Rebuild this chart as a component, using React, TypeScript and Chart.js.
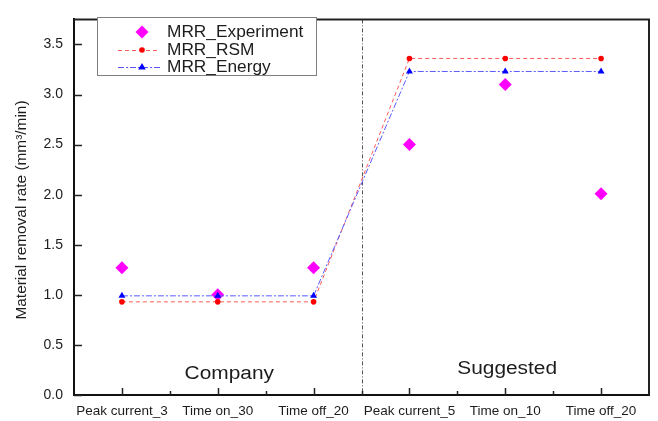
import React, { useEffect, useRef } from "react";
import { Chart, registerables } from "chart.js";

Chart.register(...registerables);

// Process settings on the x axis (company settings, then suggested settings)
const categories = [
  "Peak current_3",
  "Time on_30",
  "Time off_20",
  "Peak current_5",
  "Time on_10",
  "Time off_20",
];

// Material removal rate, mm^3/min
const mrrExperiment = [1.27, 1.0, 1.27, 2.5, 3.1, 2.01];
const mrrRsm = [0.93, 0.93, 0.93, 3.36, 3.36, 3.36];
const mrrEnergy = [0.99, 0.99, 0.99, 3.23, 3.23, 3.23];

const seriesNames = ["MRR_Experiment", "MRR_RSM", "MRR_Energy"];
const groupNames = ["Company", "Suggested"];
const yTitle = "Material removal rate (mm\u00b3/min)";

const FONT = "Arial, 'Liberation Sans', sans-serif";
const INK = "#1c1c1c";

// Text drawn by the plugin is slightly widened, like the axis lettering
function wideText(ctx: CanvasRenderingContext2D, text: string, x: number, y: number, sx: number) {
  ctx.save();
  ctx.translate(x, y);
  ctx.scale(sx, 1);
  ctx.fillText(text, 0, 0);
  ctx.restore();
}

function drawMarker(ctx: CanvasRenderingContext2D, kind: string, x: number, y: number, r: number, color: string) {
  ctx.save();
  ctx.fillStyle = color;
  ctx.beginPath();
  if (kind === "rectRot") {
    ctx.moveTo(x, y - r);
    ctx.lineTo(x + r, y);
    ctx.lineTo(x, y + r);
    ctx.lineTo(x - r, y);
  } else if (kind === "triangle") {
    ctx.moveTo(x, y - r);
    ctx.lineTo(x + r * 0.95, y + r * 0.6);
    ctx.lineTo(x - r * 0.95, y + r * 0.6);
  } else {
    ctx.arc(x, y, r, 0, Math.PI * 2);
  }
  ctx.closePath();
  ctx.fill();
  ctx.restore();
}

const framePlugin = {
  id: "frame",
  beforeDatasetsDraw(chart: any) {
    const { ctx, chartArea: a, scales } = chart;
    const x = scales.x;
    // dividing line between the two groups of settings
    const xd = Math.round(x.getPixelForValue(2.5)) + 0.5;
    ctx.save();
    ctx.strokeStyle = "#555";
    ctx.lineWidth = 1;
    ctx.setLineDash([4, 2, 1, 2]);
    ctx.beginPath();
    ctx.moveTo(xd, a.top);
    ctx.lineTo(xd, a.bottom);
    ctx.stroke();
    ctx.restore();
  },
  afterDraw(chart: any) {
    const { ctx, chartArea: a, scales } = chart;
    const x = scales.x;
    const y = scales.y;
    ctx.save();

    // top and right frame
    ctx.strokeStyle = "#222";
    ctx.lineWidth = 2;
    ctx.beginPath();
    ctx.moveTo(a.left, a.top);
    ctx.lineTo(a.right, a.top);
    ctx.lineTo(a.right, a.bottom);
    ctx.stroke();

    // inward tick marks
    ctx.lineWidth = 1.5;
    ctx.beginPath();
    y.ticks.forEach((t: any) => {
      const py = Math.round(y.getPixelForValue(t.value)) + 0.5;
      ctx.moveTo(a.left, py);
      ctx.lineTo(a.left + 8, py);
    });
    for (let i = 0; i < categories.length; i++) {
      const px = Math.round(x.getPixelForValue(i)) + 0.5;
      ctx.moveTo(px, a.bottom);
      ctx.lineTo(px, a.bottom - 7);
      if (i > 0) {
        const pm = Math.round(x.getPixelForValue(i - 0.5)) + 0.5;
        ctx.moveTo(pm, a.bottom);
        ctx.lineTo(pm, a.bottom - 4);
      }
    }
    ctx.stroke();

    // group captions
    ctx.fillStyle = INK;
    ctx.font = `18px ${FONT}`;
    ctx.textAlign = "center";
    ctx.textBaseline = "middle";
    wideText(ctx, groupNames[0], x.getPixelForValue(1.12), y.getPixelForValue(0.21), 1.16);
    wideText(ctx, groupNames[1], x.getPixelForValue(4.02), y.getPixelForValue(0.26), 1.16);

    // y axis title
    ctx.save();
    ctx.translate(22, 210);
    ctx.rotate(-Math.PI / 2);
    ctx.font = `14px ${FONT}`;
    wideText(ctx, yTitle, 0, 0, 1.1);
    ctx.restore();

    // legend
    const lx = 97.5, ly = 17.5, lw = 219, lh = 58;
    ctx.fillStyle = "#fff";
    ctx.fillRect(lx, ly, lw, lh);
    ctx.strokeStyle = "#808080";
    ctx.lineWidth = 1;
    ctx.strokeRect(lx, ly, lw, lh);
    const rows = [32, 50, 67];
    chart.data.datasets.forEach((ds: any, i: number) => {
      const ry = rows[i];
      if (ds.showLine !== false) {
        ctx.save();
        ctx.strokeStyle = ds.borderColor;
        ctx.lineWidth = 1;
        ctx.setLineDash(ds.borderDash || []);
        ctx.beginPath();
        ctx.moveTo(118, ry + 0.5);
        ctx.lineTo(160, ry + 0.5);
        ctx.stroke();
        ctx.restore();
      }
      drawMarker(ctx, ds.pointStyle, 142, ry, ds.pointRadius, ds.pointBackgroundColor);
      ctx.fillStyle = INK;
      ctx.font = `16px ${FONT}`;
      ctx.textAlign = "left";
      ctx.textBaseline = "middle";
      wideText(ctx, ds.label, 167, ry + 1, 1.08);
    });
    ctx.restore();
  },
};

export default function App() {
  const ref = useRef<HTMLCanvasElement>(null);

  useEffect(() => {
    if (!ref.current) return;
    const chart = new Chart(ref.current, {
      type: "line",
      data: {
        labels: categories,
        datasets: [
          {
            label: seriesNames[0],
            data: mrrExperiment,
            showLine: false,
            pointStyle: "rectRot",
            pointRadius: 6.5,
            pointBackgroundColor: "#ff00ff",
            pointBorderWidth: 0,
            borderColor: "#ff00ff",
            order: 3,
          },
          {
            label: seriesNames[1],
            data: mrrRsm,
            borderColor: "#ff5a5a",
            borderWidth: 1,
            borderDash: [4, 3],
            pointStyle: "circle",
            pointRadius: 2.8,
            pointBackgroundColor: "#ff0000",
            pointBorderWidth: 0,
            order: 2,
          },
          {
            label: seriesNames[2],
            data: mrrEnergy,
            borderColor: "#5a5aff",
            borderWidth: 1,
            borderDash: [6, 2, 2, 2],
            pointStyle: "triangle",
            pointRadius: 4,
            pointBackgroundColor: "#0000ff",
            pointBorderWidth: 0,
            order: 1,
          },
        ],
      },
      options: {
        animation: false,
        responsive: false,
        events: [],
        layout: { padding: { top: 7, right: 9, left: 0, bottom: 0 } },
        plugins: { legend: { display: false }, tooltip: { enabled: false } },
        scales: {
          x: {
            type: "category",
            offset: true,
            grid: { display: false, drawTicks: false },
            border: { display: true, color: "#111", width: 2 },
            ticks: {
              autoSkip: false,
              maxRotation: 0,
              padding: 8,
              color: INK,
              font: { family: FONT, size: 13.5 },
            },
            afterFit: (s: any) => {
              s.height = 26;
            },
          },
          y: {
            min: 0,
            max: 3.75,
            grid: { display: false, drawTicks: false },
            border: { display: true, color: "#111", width: 2 },
            ticks: {
              stepSize: 0.5,
              includeBounds: false,
              padding: 11,
              color: INK,
              font: { family: FONT, size: 14 },
              callback: (v: any) => Number(v).toFixed(1),
            },
            afterFit: (s: any) => {
              s.width = 74;
            },
          },
        },
      },
      plugins: [framePlugin],
    });
    return () => chart.destroy();
  }, []);

  return (
    <div style={{ position: "absolute", left: 0, top: 0, width: 658, height: 421, background: "#fff" }}>
      <canvas ref={ref} width={658} height={421} />
    </div>
  );
}
